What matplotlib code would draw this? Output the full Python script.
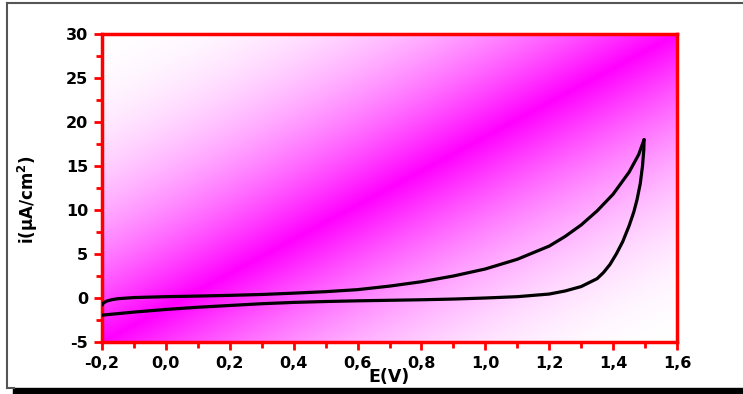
import numpy as np
import matplotlib
matplotlib.use("Agg")
import matplotlib.pyplot as plt
from matplotlib.lines import Line2D
from matplotlib.ticker import MultipleLocator, FuncFormatter

# Forward (anodic) scan
E_fwd = [-0.2, -0.195, -0.185, -0.17, -0.15, -0.1, 0.0, 0.1, 0.2, 0.3, 0.4, 0.5,
         0.6, 0.7, 0.8, 0.9, 1.0, 1.1, 1.2, 1.25, 1.3, 1.35, 1.4, 1.45, 1.48, 1.497]
i_fwd = [-0.8, -0.55, -0.35, -0.2, -0.08, 0.05, 0.15, 0.22, 0.3, 0.4, 0.55, 0.72,
         0.95, 1.35, 1.85, 2.5, 3.3, 4.4, 5.9, 7.0, 8.3, 9.9, 11.8, 14.3, 16.3, 18.0]
# Reverse scan
E_rev = [1.497, 1.496, 1.492, 1.485, 1.475, 1.465, 1.45, 1.43, 1.41, 1.39, 1.37, 1.35,
         1.3, 1.25, 1.2, 1.1, 1.0, 0.9, 0.8, 0.7, 0.6, 0.5, 0.4, 0.3, 0.2, 0.1, 0.0, -0.1, -0.2]
i_rev = [18.0, 16.8, 15.0, 13.0, 11.2, 9.8, 8.2, 6.4, 5.0, 3.8, 2.9, 2.2,
         1.3, 0.8, 0.45, 0.15, 0.0, -0.12, -0.2, -0.26, -0.32, -0.4, -0.5, -0.65, -0.85, -1.05, -1.3, -1.6, -1.95]

x_ticks = [-0.2, 0.0, 0.2, 0.4, 0.6, 0.8, 1.0, 1.2, 1.4, 1.6]
y_ticks = [-5, 0, 5, 10, 15, 20, 25, 30]
xlabel = "E(V)"
ylabel = "i(μA/cm$^2$)"

plt.rcParams['font.family'] = ['DejaVu Sans']
plt.rcParams['font.weight'] = 'bold'
plt.rcParams['mathtext.default'] = 'regular'

fig = plt.figure(figsize=(7.43, 3.94), dpi=100)
W, H = 743, 394
ax = fig.add_axes([102 / W, 1 - 342 / H, (677 - 102) / W, (342 - 34) / H])

xmin, xmax = x_ticks[0], x_ticks[-1]
ymin, ymax = y_ticks[0], y_ticks[-1]

# diagonal magenta gradient background
n = 500
u = np.linspace(0, 1, n)
U, V = np.meshgrid(u, u)
d = np.abs(U - V)
img = np.zeros((n, n, 3))
img[..., 0] = 1.0
img[..., 1] = 2 * d - d ** 2
img[..., 2] = 1.0
ax.imshow(img, extent=[xmin, xmax, ymin, ymax], origin='lower', aspect='auto',
          interpolation='bilinear', zorder=0)

ax.plot(E_fwd, i_fwd, color='black', lw=2.3, zorder=3, solid_capstyle='round')
ax.plot(E_rev, i_rev, color='black', lw=2.3, zorder=3, solid_capstyle='round')

ax.set_xlim(xmin, xmax)
ax.set_ylim(ymin, ymax)
ax.xaxis.set_major_locator(MultipleLocator(0.2))
ax.xaxis.set_minor_locator(MultipleLocator(0.1))
ax.yaxis.set_major_locator(MultipleLocator(5))
ax.yaxis.set_minor_locator(MultipleLocator(2.5))
ax.xaxis.set_major_formatter(FuncFormatter(lambda v, p: f"{v:.1f}".replace('.', ',').replace('-0,0', '0,0')))
ax.yaxis.set_major_formatter(FuncFormatter(lambda v, p: f"{int(round(v))}"))

for s in ax.spines.values():
    s.set_color('red')
    s.set_linewidth(2.5)
ax.tick_params(which='both', direction='out', colors='red', width=2.0,
               labelcolor='black', labelsize=11.5, top=False, right=False)
ax.tick_params(which='major', length=6, pad=4)
ax.tick_params(which='minor', length=4)
for lab in ax.get_xticklabels() + ax.get_yticklabels():
    lab.set_fontweight('bold')

ax.set_xlabel(xlabel, fontsize=12.5, fontweight='bold', labelpad=-2)
ax.set_ylabel(ylabel, fontsize=12, fontweight='bold')
ax.yaxis.set_label_coords((40 - 102) / 575, (342 - 200) / 308)

# figure frame and shadow
gray = '#555555'
fig.add_artist(Line2D([7 / W, 1.0], [1 - 3 / H, 1 - 3 / H], color=gray, lw=1.5, transform=fig.transFigure))
fig.add_artist(Line2D([7 / W, 7 / W], [1 - 3 / H, 1 - 388 / H], color=gray, lw=1.5, transform=fig.transFigure))
fig.add_artist(Line2D([7 / W, 14 / W], [1 - 388 / H, 1 - 388 / H], color=gray, lw=1.5, transform=fig.transFigure))
fig.add_artist(plt.Rectangle((13 / W, 0), 1.0, 6 / H, color='black', transform=fig.transFigure))

fig.savefig('out.png', dpi=100)
